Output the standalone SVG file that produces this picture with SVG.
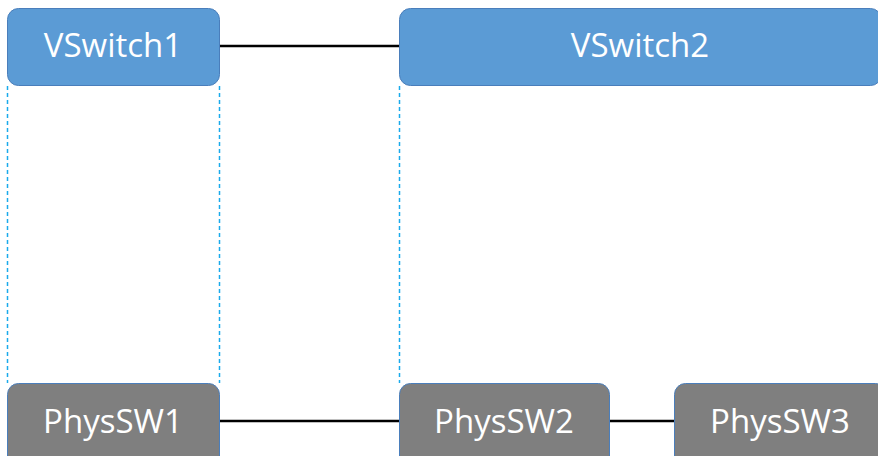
<svg xmlns="http://www.w3.org/2000/svg" width="878" height="456" viewBox="0 0 878 456">
<style>
.v{fill:#5B9BD5;stroke:#4A7EBB;stroke-width:1}
.p{fill:#7F7F7F;stroke:#4A7EBB;stroke-width:1}
.t{font-family:"Open Sans",sans-serif;font-size:33px;fill:#FFFFFF;text-anchor:middle}
.c{stroke:#000;stroke-width:2.5;fill:none}
.d{stroke:#1AAAEC;stroke-width:1.5;stroke-dasharray:4 3;fill:none}
</style>
<rect width="878" height="456" fill="#fff"/>
<g id="connectors">
<line class="c" x1="220" y1="46" x2="399" y2="46"/>
<line class="c" x1="220" y1="421" x2="399" y2="421"/>
<line class="c" x1="610" y1="421" x2="674" y2="421"/>
<line class="d" x1="7.5" y1="86" x2="7.5" y2="383"/>
<line class="d" x1="219.5" y1="86" x2="219.5" y2="383"/>
<line class="d" x1="399.5" y1="86" x2="399.5" y2="383"/>
</g>
<g id="vswitch1"><rect class="v" x="7.5" y="8.5" width="212" height="77" rx="11"/><text class="t" x="113" y="57">VSwitch1</text></g>
<g id="vswitch2"><rect class="v" x="399.5" y="8.5" width="482" height="77" rx="11"/><text class="t" x="640" y="57">VSwitch2</text></g>
<g id="physsw1"><rect class="p" x="7.5" y="383.5" width="212" height="85" rx="11"/><text class="t" x="113" y="433">PhysSW1</text></g>
<g id="physsw2"><rect class="p" x="399.5" y="383.5" width="210" height="85" rx="11"/><text class="t" x="504" y="433">PhysSW2</text></g>
<g id="physsw3"><rect class="p" x="674.5" y="383.5" width="212" height="85" rx="11"/><text class="t" x="780" y="433">PhysSW3</text></g>
</svg>
